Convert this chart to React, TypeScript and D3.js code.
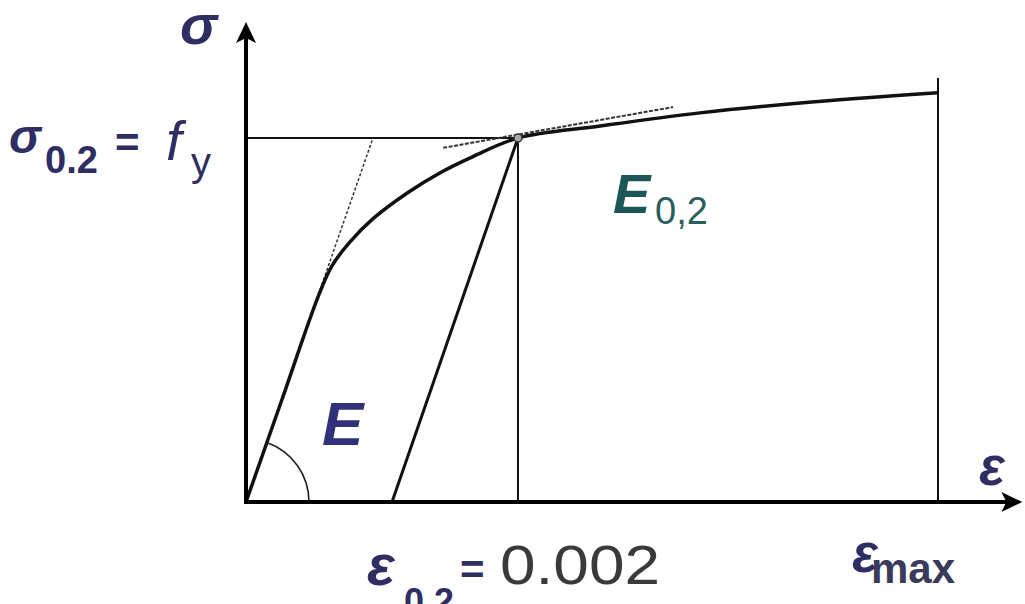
import React from "react";
import * as d3 from "d3";

// Stress–strain curve (normalised units: strain 1 = ε_max, stress 1 = σ0.2)
const strain = [0, 0.052, 0.104, 0.124, 0.15, 0.184, 0.233, 0.28, 0.328, 0.393, 0.512, 0.656, 0.801, 1.0];
const stress = [0, 0.2815, 0.563, 0.648, 0.714, 0.779, 0.849, 0.904, 0.949, 1.0, 1.033, 1.069, 1.096, 1.124];

// Key points
const yieldStrain = [0.393];
const yieldStress = [1.0];
const offsetStart = [0.211];
const strainMax = [1.0];
const strainMaxLineTop = [1.165];
const elasticTangentTop = [0.1835];
const secantStart = [0.285, 0.973];
const secantEnd = [0.617, 1.085];
const axisEnds = [1.122, 1.319];

const W = 1025;
const H = 604;

const x = d3.scaleLinear().domain([0, 1]).range([246, 938]);
const y = d3.scaleLinear().domain([0, 1]).range([502, 138]);

const navy = "#2e2e62";
const blueE = "#31317a";
const teal = "#1d5656";
const grey = "#3a3a3a";
const FONT = "'Liberation Sans', Arial, sans-serif";

function arrowHead(tx: number, ty: number, dir: "up" | "right") {
  const p = d3.path();
  if (dir === "up") {
    p.moveTo(tx, ty);
    p.lineTo(tx + 10, ty + 21);
    p.lineTo(tx, ty + 16);
    p.lineTo(tx - 10, ty + 21);
  } else {
    p.moveTo(tx, ty);
    p.lineTo(tx - 21, ty + 10);
    p.lineTo(tx - 16, ty);
    p.lineTo(tx - 21, ty - 10);
  }
  p.closePath();
  return p.toString();
}

export default function App() {
  const pts = strain.map((s, i) => [s, stress[i]] as [number, number]);
  const curve = d3
    .line<[number, number]>()
    .x((d) => x(d[0]))
    .y((d) => y(d[1]))
    .curve(d3.curveCatmullRom.alpha(0.5))(pts)!;

  const x0 = x(0);
  const y0 = y(0);
  const xTip = x(axisEnds[0]);
  const yTip = y(axisEnds[1]);

  // Angle marker between x-axis and elastic line
  const slopeAngle = Math.atan2(y(0) - y(1), x(elasticTangentTop[0]) - x(0));
  const arc = d3
    .arc()
    .innerRadius(63)
    .outerRadius(63)
    .startAngle(Math.PI / 2 - slopeAngle)
    .endAngle(Math.PI / 2)({} as any)!;

  return (
    <div style={{ position: "fixed", left: 0, top: 0 }}>
      <svg width={W} height={H} style={{ display: "block", background: "#fff" }}>
        <rect width={W} height={H} fill="#fff" />

        {/* reference lines */}
        <line x1={x0} y1={y(yieldStress[0])} x2={x(yieldStrain[0])} y2={y(yieldStress[0])} stroke="#111" strokeWidth={2} />
        <line x1={x(yieldStrain[0])} y1={y(yieldStress[0])} x2={x(yieldStrain[0])} y2={y0} stroke="#111" strokeWidth={2} />
        <line x1={x(strainMax[0])} y1={y(strainMaxLineTop[0])} x2={x(strainMax[0])} y2={y0} stroke="#111" strokeWidth={2} />

        {/* tangents */}
        <line x1={x0} y1={y0} x2={x(elasticTangentTop[0])} y2={y(1)} stroke="#333" strokeWidth={1.5} strokeDasharray="3 2" />
        <line x1={x(secantStart[0])} y1={y(secantStart[1])} x2={x(secantEnd[0])} y2={y(secantEnd[1])} stroke="#333" strokeWidth={2} strokeDasharray="4 1.5" />

        {/* 0.2% offset line */}
        <line x1={x(offsetStart[0])} y1={y0} x2={x(yieldStrain[0])} y2={y(yieldStress[0])} stroke="#111" strokeWidth={3} />

        {/* stress-strain curve */}
        <path d={curve} fill="none" stroke="#111" strokeWidth={3.5} strokeLinejoin="round" />

        {/* angle arc */}
        <path d={arc} transform={`translate(${x0},${y0})`} fill="none" stroke="#222" strokeWidth={1.6} />

        {/* yield point marker */}
        <circle cx={x(yieldStrain[0])} cy={y(yieldStress[0])} r={4} fill="#aaa" stroke="#333" strokeWidth={1.5} />

        {/* axes */}
        <line x1={x0} y1={y0} x2={x0} y2={yTip + 10} stroke="#000" strokeWidth={4} />
        <line x1={x0 - 2} y1={y0} x2={xTip - 10} y2={y0} stroke="#000" strokeWidth={4} />
        <path d={arrowHead(x0, yTip, "up")} fill="#000" />
        <path d={arrowHead(xTip, y0, "right")} fill="#000" />

        {/* labels */}
        <g fontFamily={FONT}>
          <text x={180} y={44} fontSize={56} fontStyle="italic" fontWeight="bold" fill={navy}>σ</text>

          <text x={9} y={153} fontSize={48} fontStyle="italic" fontWeight="bold" fill={navy}>σ</text>
          <text x={45} y={173} fontSize={38} fontWeight="bold" fill={navy}>0.2</text>
          <text x={115} y={157} fontSize={42} fontWeight="bold" fill={navy}>=</text>
          <text x={166} y={160} fontSize={56} fontStyle="italic" fill={navy}>f</text>
          <text x={191} y={176} fontSize={40} fill={navy}>y</text>

          <text x={322} y={445} fontSize={62} fontStyle="italic" fontWeight="bold" fill={blueE}>E</text>

          <text x={613} y={213} fontSize={56} fontStyle="italic" fontWeight="bold" fill={teal}>E</text>
          <text x={655} y={224} fontSize={38} fill="#2a5e5e">0,2</text>

          <text x={979} y={485} fontSize={54} fontStyle="italic" fontWeight="bold" fill={navy}>ε</text>

          <text x={367} y={585} fontSize={58} fontStyle="italic" fontWeight="bold" fill={navy}>ε</text>
          <text x={404} y={614} fontSize={36} fontWeight="bold" fill={navy}>0.2</text>
          <text x={460} y={584} fontSize={42} fontWeight="bold" fill={navy}>=</text>
          <text x={500} y={584} fontSize={55} fill={grey} textLength={160} lengthAdjust="spacingAndGlyphs">0.002</text>

          <text x={852} y={572} fontSize={54} fontStyle="italic" fontWeight="bold" fill={navy}>ε</text>
          <text x={871} y={583} fontSize={42} fontWeight="bold" fill="#3a3a5a">max</text>
        </g>
      </svg>
    </div>
  );
}
